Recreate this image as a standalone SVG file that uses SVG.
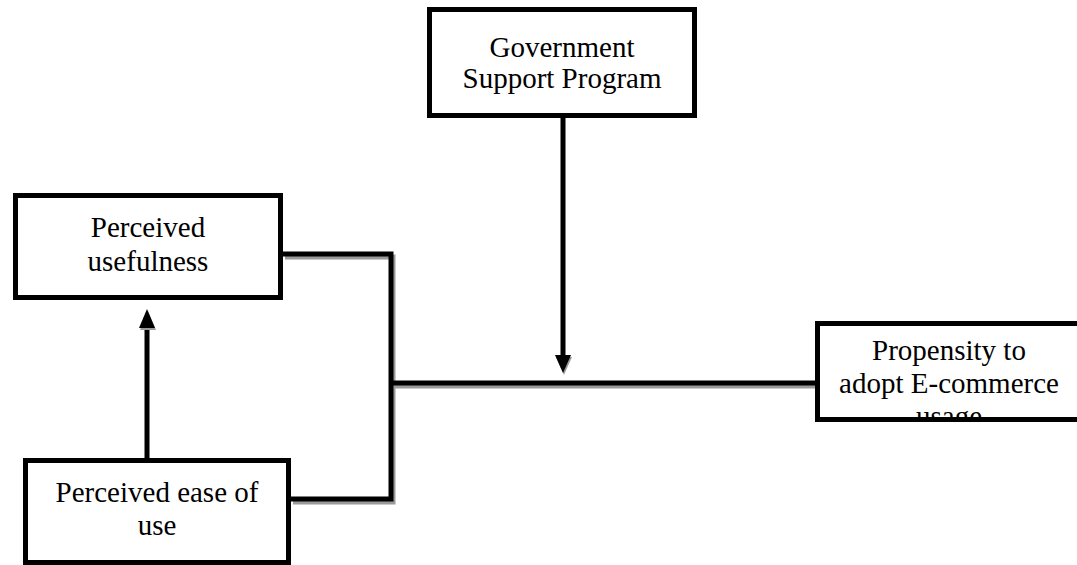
<svg xmlns="http://www.w3.org/2000/svg" width="1077" height="565" viewBox="0 0 1077 565">
<style>
.box{fill:#fff;stroke:#000;stroke-width:5}
.t{font-family:"Liberation Serif","Times New Roman",serif;font-size:29px;fill:#000;text-anchor:middle}
.ln{fill:none;stroke:#000;stroke-width:5}
.sh{fill:none;stroke:#9a9a9a;stroke-width:5}
</style>
<defs>
<clipPath id="pclip"><rect x="820" y="326" width="257" height="92"/></clipPath>
</defs>
<rect width="1077" height="565" fill="#fff"/>
<g id="connectors">
<g transform="translate(2,3)">
<path class="sh" d="M283,254 H391 V499 H291"/>
<path class="sh" d="M391,383 H817"/>
</g>
<path class="ln" d="M283,254 H391 V499 H291"/>
<path class="ln" d="M391,383 H817"/>
<line class="ln" x1="147" y1="458" x2="147" y2="326"/>
<polygon points="147,309 139,328 155,328" fill="#9a9a9a" transform="translate(1,2)"/>
<polygon points="147,309 139,328 155,328" fill="#000"/>
<line class="ln" x1="563" y1="118" x2="563" y2="357"/>
<polygon points="563,373 555,355 571,355" fill="#9a9a9a" transform="translate(1,2)"/>
<polygon points="563,373 555,355 571,355" fill="#000"/>
</g>
<g id="gov">
<rect class="box" x="429.5" y="9.5" width="265" height="106"/>
<text class="t" x="562" y="57">Government</text>
<text class="t" x="562" y="88">Support Program</text>
</g>
<g id="useful">
<rect class="box" x="15.5" y="195.5" width="265" height="102"/>
<text class="t" x="148" y="237">Perceived</text>
<text class="t" x="148" y="271">usefulness</text>
</g>
<g id="ease">
<rect class="box" x="25.5" y="460.5" width="263" height="102"/>
<text class="t" x="157" y="502">Perceived ease of</text>
<text class="t" x="157" y="535">use</text>
</g>
<g id="propensity">
<rect class="box" x="817.5" y="323.5" width="300" height="96"/>
<g clip-path="url(#pclip)">
<text class="t" x="949" y="360">Propensity to</text>
<text class="t" x="949" y="393">adopt E-commerce</text>
<text class="t" x="949" y="426">usage</text>
</g>
</g>
</svg>
